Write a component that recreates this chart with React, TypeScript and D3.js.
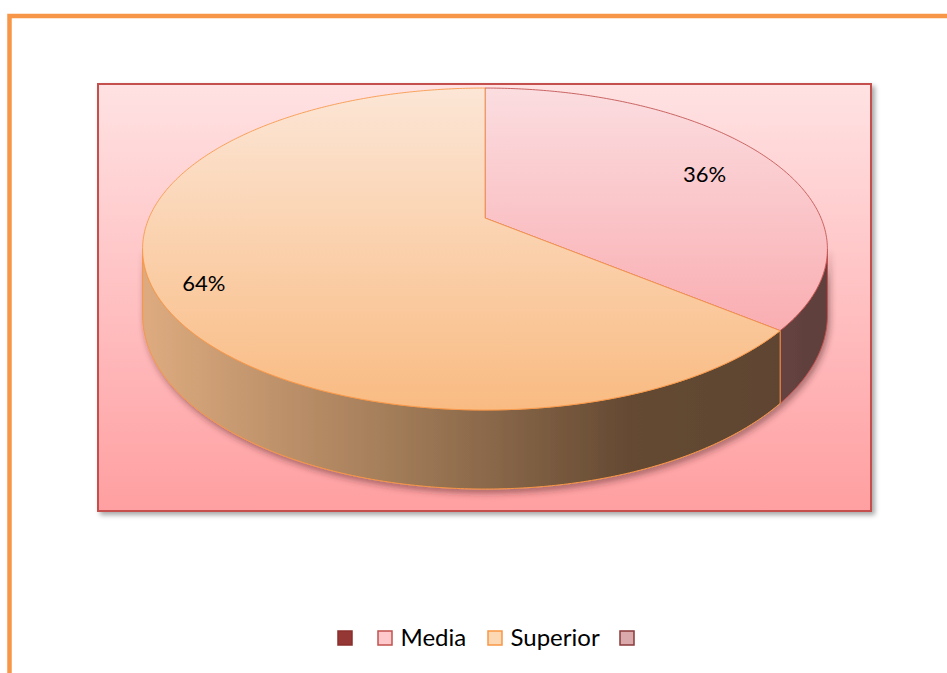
import React from "react";
import * as d3 from "d3";

const categories = ["", "Media", "Superior", ""];
const values = [0, 36, 64, 0];
const swatchFill = ["#953735", "#FFC9CB", "#FDD8B4", "#D9A9AB"];
const swatchStroke = ["#8A2F2D", "#C0504D", "#F79646", "#8B3A3A"];
const topColors: Record<string, [string, string]> = {
  Media: ["#FBDDE0", "#F99EA2"],
  Superior: ["#FCE6D6", "#F9BB82"],
};
const edgeColors: Record<string, string> = { Media: "#C0504D", Superior: "#F79646" };

const W = 947;
const H = 673;
// pie projection parameters
const CX = 485;
const CY = 218;
const AY = 155;
const BX = 336;
const K = 0.1927;
const THICK = 63.8;
const LABEL_DX = -14;

function proj(phi: number, r = 1, drop = 0): [number, number] {
  const d = 1 + K * r * Math.cos(phi);
  const d1 = 1 + K * Math.cos(phi);
  return [
    CX + (r * BX * Math.sin(phi)) / d,
    CY - (r * AY * Math.cos(phi)) / d + (drop * THICK) / d1,
  ];
}

function arcPts(a: number, b: number, drop = 0): [number, number][] {
  const n = Math.max(2, Math.ceil(Math.abs(b - a) / 0.01));
  return d3.range(n + 1).map((i) => proj(a + ((b - a) * i) / n, 1, drop));
}

const line = d3.line();

export default function App() {
  const pie = d3.pie<number>().sort(null).value((v) => v);
  const arcs = pie(values)
    .map((a, i) => ({ ...a, name: categories[i], idx: i }))
    .filter((a) => a.value > 0);
  const total = d3.sum(values);
  const fmt = d3.format(".0%");
  const vis0 = Math.acos(-K);
  const vis1 = 2 * Math.PI - vis0;

  const legendX = [337, 377, 487, 619];

  return (
    <svg
      width={W}
      height={H}
      style={{ position: "absolute", left: 0, top: 0, display: "block" }}
      fontFamily="Lato, 'Open Sans', sans-serif"
    >
      <defs>
        <linearGradient id="plotBg" x1="0" y1="0" x2="0" y2="1">
          <stop offset="0" stopColor="#FFE2E3" />
          <stop offset="1" stopColor="#FF9FA1" />
        </linearGradient>
        {arcs.map((a) => (
          <linearGradient
            key={a.name}
            id={`top-${a.idx}`}
            gradientUnits="userSpaceOnUse"
            x1="0"
            y1={CY - AY / (1 + K)}
            x2="0"
            y2={CY + AY / (1 - K)}
          >
            <stop offset="0" stopColor={topColors[a.name][0]} />
            <stop offset="1" stopColor={topColors[a.name][1]} />
          </linearGradient>
        ))}
        <linearGradient id="wallSup" gradientUnits="userSpaceOnUse" x1={CX - BX} y1="0" x2={CX + BX * 0.9} y2="0">
          <stop offset="0" stopColor="#DCAA7E" />
          <stop offset="0.4" stopColor="#A07A57" />
          <stop offset="0.75" stopColor="#654A33" />
          <stop offset="1" stopColor="#5D4431" />
        </linearGradient>
        <linearGradient id="wallMed" gradientUnits="userSpaceOnUse" x1={CX + BX * 0.8} y1="0" x2={CX + BX} y2="0">
          <stop offset="0" stopColor="#6A4643" />
          <stop offset="1" stopColor="#5E3F3C" />
        </linearGradient>
        <filter id="shadow" x="-10%" y="-10%" width="120%" height="130%">
          <feDropShadow dx="3" dy="3" stdDeviation="2.5" floodColor="#000" floodOpacity="0.35" />
        </filter>
        <filter id="pieShadow" x="-10%" y="-10%" width="120%" height="130%">
          <feDropShadow dx="2" dy="4" stdDeviation="3" floodColor="#4a2020" floodOpacity="0.45" />
        </filter>
      </defs>

      {/* outer frame */}
      <rect x={9.5} y={16} width={1200} height={1200} fill="#fff" stroke="#F79646" strokeWidth={4.5} />

      {/* plot area */}
      <rect
        x={98}
        y={84}
        width={773}
        height={427}
        fill="url(#plotBg)"
        stroke="#C4504E"
        strokeWidth={2}
        filter="url(#shadow)"
      />

      {/* walls */}
      <g filter="url(#pieShadow)">
        {arcs.map((a) => {
          const s = Math.max(a.startAngle, vis0);
          const e = Math.min(a.endAngle, vis1);
          if (s >= e) return null;
          const topE = arcPts(s, e, 0);
          const botE = arcPts(e, s, 1);
          const d = line([...topE, ...botE]) + "Z";
          return (
            <path
              key={"w" + a.idx}
              d={d}
              fill={a.name === "Superior" ? "url(#wallSup)" : "url(#wallMed)"}
              stroke={edgeColors[a.name]}
              strokeWidth={1}
              strokeLinejoin="round"
            />
          );
        })}
      </g>

      {/* tops */}
      {arcs.map((a) => {
        const pts: [number, number][] = [[CX, CY], ...arcPts(a.startAngle, a.endAngle, 0)];
        return (
          <path
            key={"t" + a.idx}
            d={line(pts) + "Z"}
            fill={`url(#top-${a.idx})`}
            stroke={edgeColors[a.name]}
            strokeWidth={1}
            strokeOpacity={0.85}
            strokeLinejoin="round"
          />
        );
      })}

      {/* labels */}
      {arcs.map((a) => {
        const mid = (a.startAngle + a.endAngle) / 2;
        const [x, y] = proj(mid, 0.82, 0.1);
        return (
          <text
            key={"l" + a.idx}
            x={x + LABEL_DX}
            y={y}
            textAnchor="middle"
            dominantBaseline="central"
            fontSize={22}
            fill="#000"
          >
            {fmt(a.value / total)}
          </text>
        );
      })}

      {/* legend */}
      {categories.map((c, i) => (
        <g key={"lg" + i} transform={`translate(${legendX[i]},630)`}>
          <rect x={1} y={1} width={14} height={14} fill={swatchFill[i]} stroke={swatchStroke[i]} strokeWidth={1.5} />
          {c && (
            <text x={23.5} y={16} fontSize={24} fill="#000">
              {c}
            </text>
          )}
        </g>
      ))}
    </svg>
  );
}
